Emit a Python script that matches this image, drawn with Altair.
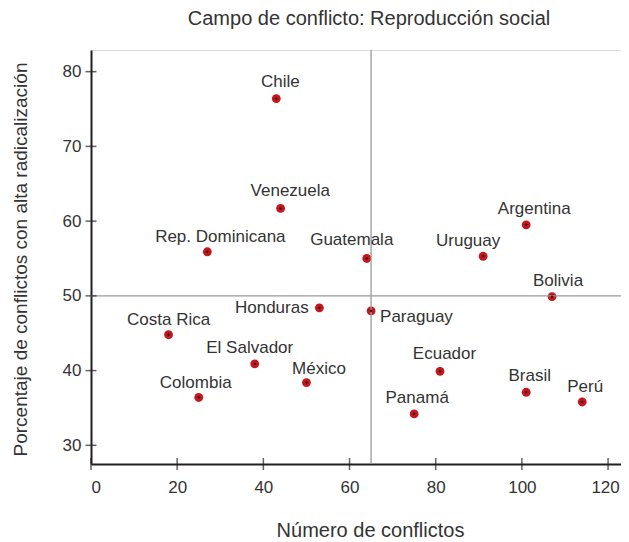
import altair as alt
import pandas as pd

countries = ["Chile", "Venezuela", "Rep. Dominicana", "Guatemala", "Argentina", "Uruguay",
             "Bolivia", "Honduras", "Paraguay", "Costa Rica", "El Salvador", "México",
             "Colombia", "Ecuador", "Panamá", "Brasil", "Perú"]
conflicts = [43, 44, 27, 64, 101, 91, 107, 53, 65, 18, 38, 50, 25, 81, 75, 101, 114]
radical = [76.4, 61.7, 55.9, 55.0, 59.5, 55.3, 49.9, 48.4, 48.0, 44.8, 40.9, 38.4,
           36.4, 39.9, 34.2, 37.1, 35.8]

# label placement (pixel offsets from the point, text alignment)
label_dx = [4, 9.7, 13, -15, 8, -15, 6, -10.7, 9, 0, -5, 12.5, -3, 4.5, 3, 3.5, 3]
label_dy = [-11.4, -12, -10, -13.6, -11.3, -10.7, -10.4, 5.6, 11.3, -9.7, -11, -9, -9,
            -12, -11.3, -11.6, -10]
label_align = ["center"] * 7 + ["right", "left"] + ["center"] * 8

x_ticks = [0, 20, 40, 60, 80, 100, 120]
y_ticks = [30, 40, 50, 60, 70, 80]
x_ref = 65
y_ref = 50
x_dom = [0, 123]
y_dom = [27.5, 82.9]

FONT = "Liberation Sans"
TXT = "#333333"

df = pd.DataFrame({"pais": countries, "conf": conflicts, "rad": radical})

xs = alt.Scale(domain=x_dom, nice=False, zero=False)
ys = alt.Scale(domain=y_dom, nice=False, zero=False)

base = alt.Chart(df)

x_enc = alt.X("conf:Q", scale=xs,
              axis=alt.Axis(title="Número de conflictos", values=x_ticks, grid=False,
                            ticks=False, tickSize=0, domainColor="#231f20", domainWidth=2,
                            labelFont=FONT, labelFontSize=17, labelColor=TXT,
                            labelBaseline="alphabetic", labelPadding=28,
                            labelOffset={"condition": {"test": "datum.value == 120", "value": -3},
                                         "value": 0},
                            titleFont=FONT, titleFontSize=20, titleColor=TXT,
                            titleFontWeight="normal", titleBaseline="alphabetic",
                            titleAlign="center", titleX=279, titleY=72.5))
y_enc = alt.Y("rad:Q", scale=ys,
              axis=alt.Axis(title="Porcentaje de conflictos con alta radicalización",
                            values=y_ticks, grid=False, ticks=False, tickSize=0,
                            domainColor="#231f20", domainWidth=2,
                            labelFont=FONT, labelFontSize=17, labelColor=TXT,
                            labelPadding=10,
                            titleFont=FONT, titleFontSize=19, titleColor=TXT,
                            titleFontWeight="normal", titleBaseline="alphabetic",
                            titleAlign="center", titleAngle=270,
                            titleX=-65, titleY=209))

vrule = alt.Chart(pd.DataFrame({"v": [x_ref]})).mark_rule(color="#9a9a9a", strokeWidth=1.3).encode(
    x=alt.X("v:Q", scale=xs))
hrule = alt.Chart(pd.DataFrame({"h": [y_ref]})).mark_rule(color="#9a9a9a", strokeWidth=1.3).encode(
    y=alt.Y("h:Q", scale=ys))

xt = alt.Chart(pd.DataFrame({"t": x_ticks})).mark_tick(
    orient="vertical", size=12, thickness=1.5, color="#231f20").encode(
    x=alt.X("t:Q", scale=xs), y=alt.datum(y_dom[0], scale=ys))
yt = alt.Chart(pd.DataFrame({"t": y_ticks})).mark_tick(
    orient="horizontal", size=11, thickness=1.5, color="#231f20").encode(
    y=alt.Y("t:Q", scale=ys), x=alt.datum(x_dom[0], scale=xs))

pts = base.mark_point(filled=True, size=78, color="#c4161c", opacity=1).encode(x=x_enc, y=y_enc)
core = base.mark_point(filled=True, size=5, color="#111111", opacity=1).encode(
    x=alt.X("conf:Q", scale=xs), y=alt.Y("rad:Q", scale=ys))

labels = []
for name, dx, dy, al in zip(countries, label_dx, label_dy, label_align):
    labels.append(
        base.transform_filter(alt.datum.pais == name).mark_text(
            dx=dx, dy=dy, align=al, baseline="alphabetic", font=FONT, fontSize=17,
            color=TXT).encode(x=alt.X("conf:Q", scale=xs), y=alt.Y("rad:Q", scale=ys),
                              text="pais:N"))

chart = alt.layer(pts, vrule, hrule, xt, yt, core, *labels).properties(
    width=530, height=414,
    title=alt.TitleParams("Campo de conflicto: Reproducción social", font=FONT,
                          fontSize=20, fontWeight="normal", color=TXT,
                          anchor="middle", frame="group", dx=13, offset=20),
    autosize=alt.AutoSizeParams(type="none"),
    padding={"left": 83, "top": 42, "right": 0, "bottom": 78},
).configure_view(stroke=None).configure(background="white")

chart.save("out.html", embed_options={"renderer": "svg", "actions": False})
